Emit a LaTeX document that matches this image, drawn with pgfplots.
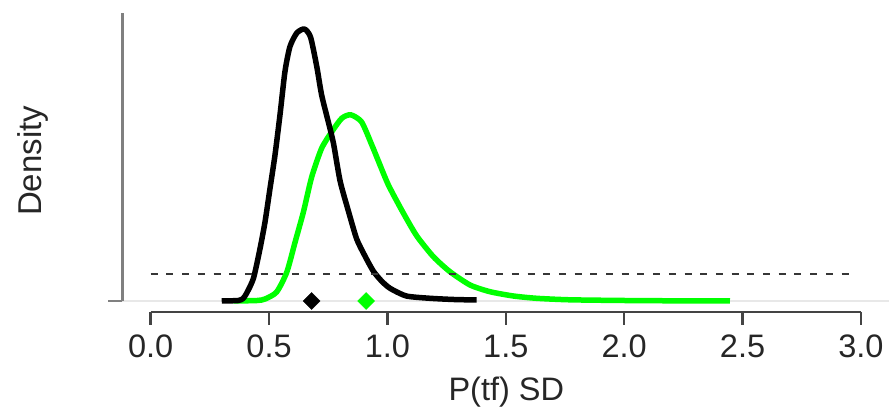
\documentclass[border=0pt]{standalone}
\usepackage{fontspec}
\setmainfont{Liberation Sans}
\usepackage{pgfplots}
\pgfplotsset{compat=1.18}
\definecolor{rgreen}{RGB}{0,255,0}
\definecolor{axdark}{RGB}{68,68,68}
\definecolor{axgray}{RGB}{128,128,128}
\definecolor{basegray}{RGB}{232,232,232}
\begin{document}
\begin{tikzpicture}
\begin{axis}[
  scale only axis,
  width=767pt, height=308.4pt,
  xmin=-0.12, xmax=3.12, ymin=-0.11, ymax=2.974,
  clip=false,
  axis line style={draw=none},
  major tick length=0pt,
  ytick=\empty,
  xtick={0,0.5,1,1.5,2,2.5,3},
  xticklabels={0.0,0.5,1.0,1.5,2.0,2.5,3.0},
  xticklabel style={anchor=center, yshift=-34.5pt, font=\fontsize{32.5}{38}\selectfont, text=black!85},
  xlabel={P(tf) SD},
  ylabel={Density},
  every axis x label/.style={at={(axis description cs:0.5007,-0.261)}, anchor=center, font=\fontsize{32.5}{38}\selectfont, text=black!85},
  every axis y label/.style={at={(axis description cs:-0.116,0.49)}, rotate=90, anchor=center, font=\fontsize{33}{38}\selectfont, text=black!85},
]
% light baseline
\draw[basegray, line width=2pt] (axis cs:-0.12,0) -- (axis cs:3.12,0);
% y axis
\draw[axgray, line width=3pt] (axis cs:-0.12,0) -- (axis cs:-0.12,2.88);
\draw[axgray, line width=2.5pt] (axis cs:-0.12,0) -- ([xshift=-14pt]axis cs:-0.12,0);
% x axis
\draw[axdark, line width=2.5pt] (axis cs:0,-0.11) -- (axis cs:3,-0.11);
\draw[axdark, line width=2.5pt] (axis cs:0,-0.11) -- ([yshift=-13pt]axis cs:0,-0.11);
\draw[axdark, line width=2.5pt] (axis cs:0.5,-0.11) -- ([yshift=-13pt]axis cs:0.5,-0.11);
\draw[axdark, line width=2.5pt] (axis cs:1,-0.11) -- ([yshift=-13pt]axis cs:1,-0.11);
\draw[axdark, line width=2.5pt] (axis cs:1.5,-0.11) -- ([yshift=-13pt]axis cs:1.5,-0.11);
\draw[axdark, line width=2.5pt] (axis cs:2,-0.11) -- ([yshift=-13pt]axis cs:2,-0.11);
\draw[axdark, line width=2.5pt] (axis cs:2.5,-0.11) -- ([yshift=-13pt]axis cs:2.5,-0.11);
\draw[axdark, line width=2.5pt] (axis cs:3,-0.11) -- ([yshift=-13pt]axis cs:3,-0.11);
% green density
\addplot[rgreen, line width=5.5pt, line join=round, no marks, smooth, tension=0.4] coordinates {
(0.349,0) (0.45,0.005) (0.483,0.02) (0.532,0.09) (0.575,0.29) (0.61,0.59) (0.645,0.89)
(0.68,1.24) (0.722,1.527) (0.765,1.693) (0.807,1.827) (0.845,1.862) (0.891,1.79)
(0.934,1.56) (0.96,1.41) (1.004,1.16) (1.067,0.88) (1.124,0.65) (1.194,0.443)
(1.264,0.293) (1.349,0.16) (1.433,0.093) (1.532,0.05) (1.63,0.027) (1.77,0.012)
(2.0,0.005) (2.2,0.002) (2.447,0)
};
% black density
\addplot[black, line width=5.5pt, line join=round, no marks, smooth, tension=0.4] coordinates {
(0.30,0) (0.37,0.005) (0.39,0.025) (0.405,0.077) (0.434,0.227) (0.462,0.527)
(0.483,0.793) (0.504,1.127) (0.525,1.46) (0.546,1.86) (0.567,2.293) (0.588,2.543)
(0.617,2.68) (0.649,2.72) (0.675,2.64) (0.701,2.35) (0.722,2.06) (0.75,1.793)
(0.772,1.577) (0.80,1.2) (0.835,0.9) (0.87,0.62) (0.905,0.45) (0.94,0.3)
(0.975,0.2) (1.011,0.127) (1.08,0.05) (1.18,0.027) (1.28,0.015) (1.377,0.01)
};
% dashed reference line
\addplot[axdark!80!black, line width=2.5pt, dash pattern=on 7pt off 8.7pt, no marks] coordinates {(0,0.27) (2.975,0.27)};
% point estimates
\addplot[only marks, mark=square*, mark size=6pt, mark options={rotate=45, fill=black, draw=black}] coordinates {(0.68,0)};
\addplot[only marks, mark=square*, mark size=6pt, mark options={rotate=45, fill=rgreen, draw=rgreen}] coordinates {(0.91,0)};
\coordinate (bbl) at (axis cs:-0.6367,-1.11);
\coordinate (btr) at (axis cs:3.1187,3.01);
\end{axis}
\pgfresetboundingbox
\useasboundingbox (bbl) rectangle (btr);
\end{tikzpicture}
\end{document}
